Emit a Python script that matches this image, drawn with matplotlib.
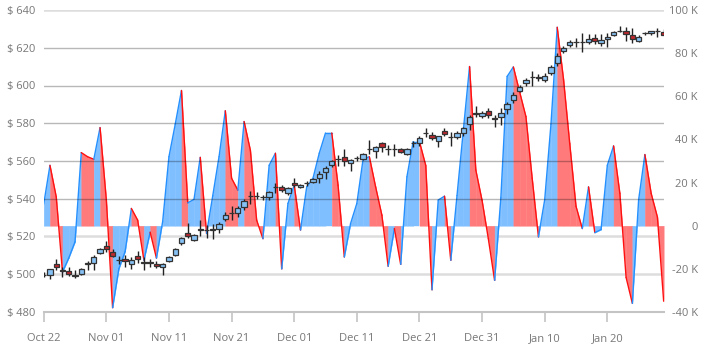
import numpy as np
import pandas as pd
import matplotlib
matplotlib.use("Agg")
import matplotlib.pyplot as plt
import matplotlib.dates as mdates
from matplotlib import transforms
from matplotlib.ticker import FuncFormatter

plt.rcParams['font.family'] = ['Open Sans', 'DejaVu Sans']

start_date = "2018-10-22"

opens = [499.8, 499.5, 505.4, 502.0, 501.6, 499.4, 500.0, 505.6, 506.1, 511.4,
         515.0, 511.8, 507.7, 508.3, 505.4, 509.7, 506.3, 506.3, 505.6, 503.7,
         507.0, 510.4, 516.4, 521.8, 518.3, 523.8, 523.4, 523.8, 523.8, 529.1,
         532.6, 532.3, 535.8, 541.5, 541.5, 541.0, 540.8, 546.2, 546.4, 543.2,
         548.5, 546.0, 548.2, 549.0, 550.8, 554.2, 557.7, 561.1, 562.0, 558.9,
         561.6, 561.0, 566.3, 565.5, 569.4, 566.3, 566.3, 566.1, 563.9, 569.7,
         569.7, 574.6, 573.8, 570.4, 575.7, 572.9, 572.6, 575.0, 579.6, 585.5,
         583.8, 586.6, 582.6, 583.2, 587.4, 592.3, 597.2, 601.2, 604.3, 604.3,
         603.1, 606.8, 612.1, 618.4, 621.6, 623.2, 623.2, 623.0, 625.0, 622.7,
         624.5, 626.8, 629.0, 628.9, 626.6, 623.7, 627.6, 627.6, 629.0, 628.5]
highs = [501.0, 503.0, 508.0, 504.0, 504.0, 502.0, 503.5, 507.0, 510.0, 514.0,
         517.5, 513.5, 509.5, 510.0, 509.0, 512.5, 509.0, 508.0, 507.0, 506.0,
         509.5, 514.0, 519.8, 527.0, 521.5, 528.5, 526.0, 526.5, 527.5, 533.0,
         536.0, 536.0, 540.0, 544.0, 543.5, 542.0, 544.0, 548.5, 547.5, 546.0,
         551.0, 548.0, 549.5, 551.0, 554.5, 557.5, 560.5, 563.0, 566.2, 560.9,
         562.5, 564.5, 571.0, 568.0, 570.2, 568.5, 569.0, 567.0, 567.0, 570.5,
         573.5, 577.6, 575.5, 573.5, 577.5, 575.5, 576.0, 578.0, 584.5, 589.0,
         586.5, 588.0, 584.4, 587.9, 591.5, 596.7, 600.5, 604.0, 607.7, 606.0,
         606.5, 611.0, 617.0, 621.0, 624.0, 625.0, 627.6, 627.5, 627.5, 627.5,
         628.0, 629.0, 631.5, 631.2, 630.3, 626.5, 628.5, 629.0, 630.3, 630.0]
lows = [498.5, 497.5, 502.0, 498.5, 499.0, 498.0, 499.5, 502.0, 502.0, 510.5,
        512.0, 509.0, 505.5, 504.0, 503.0, 506.0, 502.5, 504.0, 503.5, 499.5,
        506.5, 509.5, 515.5, 519.0, 517.5, 520.0, 519.0, 518.5, 522.0, 528.0,
        528.7, 530.5, 534.0, 537.0, 540.0, 539.3, 539.5, 543.0, 543.5, 542.0,
        546.0, 545.5, 546.5, 548.5, 548.5, 550.5, 557.0, 557.5, 557.4, 554.7,
        560.0, 560.5, 563.7, 561.5, 564.9, 563.2, 562.8, 564.0, 563.0, 567.5,
        568.0, 572.6, 571.0, 567.3, 573.0, 568.0, 571.5, 573.5, 576.5, 583.5,
        583.0, 582.6, 578.2, 579.1, 585.0, 590.6, 596.5, 599.5, 599.7, 602.5,
        602.0, 605.5, 610.5, 617.0, 620.5, 620.6, 618.0, 622.0, 622.0, 621.0,
        620.5, 626.0, 628.5, 623.7, 622.4, 623.0, 626.5, 627.0, 625.9, 626.5]
closes = [499.6, 502.6, 503.7, 501.8, 500.1, 499.0, 502.8, 505.8, 509.0, 513.2,
          513.2, 509.5, 507.5, 507.0, 507.8, 508.0, 506.2, 506.2, 504.5, 505.3,
          509.0, 513.2, 519.0, 520.2, 520.8, 523.7, 523.3, 523.7, 526.6, 531.4,
          532.5, 535.0, 538.8, 541.4, 541.4, 540.8, 543.4, 546.3, 544.6, 545.5,
          547.1, 547.4, 548.3, 550.6, 553.0, 556.3, 559.8, 561.2, 560.2, 560.7,
          561.5, 563.6, 566.2, 567.4, 567.6, 566.2, 566.2, 564.8, 566.5, 569.8,
          572.2, 574.7, 572.0, 573.1, 574.1, 572.8, 575.0, 577.6, 583.2, 585.0,
          585.3, 584.5, 582.5, 585.3, 590.0, 595.0, 599.0, 602.8, 604.4, 604.2,
          604.9, 609.6, 615.6, 620.0, 623.0, 623.3, 623.3, 624.5, 623.7, 624.1,
          625.9, 628.3, 629.1, 627.3, 624.8, 625.7, 627.7, 628.7, 629.1, 626.8]

# second series, in thousands (right axis)
flow_k = [10, 28, 13.4, -21.5, -15, -7.5, 33.9, 32, 30.8, 45.5,
          12, -38, -20, -12, 8, 2.6, -16, -3, -15, 2,
          32, 47, 62.7, 10.6, 12.2, 31.7, -3.6, 14, 32, 53.3,
          22, 16.5, 48.3, 35, 2.6, -6, 28, 33.6, -20, 10.3,
          18.8, -2, 18, 22, 33.6, 43, 43, 18.8, -14.5, 1,
          10.3, 30.8, 32, 18, 4.9, -18.8, -1.3, -17.9, 22.7, 39,
          39, 28, -29.7, 11.9, 13.7, -16, 14, 44, 73.8, 25.8,
          11.7, -6, -25.3, 13, 69.2, 73.6, 62, 50.6, 22, -5.2,
          12, 47, 92, 68, 38, 9, -1.3, 18, -3.2, -1.8,
          28, 37, 15, -24, -36, 12, 33, 15, 4, -35]

price_ticks = [480, 500, 520, 540, 560, 580, 600, 620, 640]
flow_ticks = [-40, -20, 0, 20, 40, 60, 80, 100]


def plot_chart(output):
    dates = pd.date_range(start_date, periods=len(opens), freq="D")
    x = mdates.date2num(dates)
    o, h, l, c = (np.array(v) for v in (opens, highs, lows, closes))
    flow = np.array(flow_k)

    fig, ax = plt.subplots(figsize=(7.17, 3.52), dpi=100)
    fig.subplots_adjust(left=43.7 / 717, right=664.3 / 717, bottom=1 - 312 / 352, top=1 - 10 / 352)
    ax2 = ax.twinx()
    ax.set_zorder(ax2.get_zorder() + 1)
    ax.patch.set_visible(False)

    # area series, coloured per segment by direction
    for i in range(len(x) - 1):
        rising = flow[i + 1] >= flow[i]
        fill = '#80bfff' if rising else '#ff7a7a'
        line = '#2490ff' if rising else '#ff1010'
        ax2.fill_between(x[i:i + 2], flow[i:i + 2], 0, facecolor=fill, edgecolor=fill,
                         linewidth=0.3, zorder=1)
        ax2.plot(x[i:i + 2], flow[i:i + 2], color=line, lw=1.0, zorder=2, solid_capstyle='round')

    # grid lines
    trans = transforms.blended_transform_factory(ax2.transAxes, ax.transData)
    for p in price_ticks[1:]:
        if p in (500, 520, 640):
            ax2.plot([0, 1], [p, p], transform=trans, color='#dddddd', lw=1.8, zorder=0)
        else:
            ax.axhline(p, color=(0, 0, 0, 0.28), lw=1, zorder=0.5)

    # candles
    up = c >= o
    ax.vlines(x, l, h, color='#222222', lw=1, zorder=3)
    ax.bar(x, np.abs(c - o), width=0.85, bottom=np.minimum(o, c),
           color=np.where(up, '#86c1f5', '#c0282e'), edgecolor='#333333', linewidth=0.9, zorder=4)

    ax.set_xlim(x[0], x[0] + 99.1)
    ax.set_ylim(480, 640)
    ax2.set_ylim(-40, 100)

    ax.set_yticks(price_ticks)
    ax.yaxis.set_major_formatter(FuncFormatter(lambda v, _: f"$ {v:.0f}"))
    ax2.set_yticks(flow_ticks)
    ax2.yaxis.set_major_formatter(FuncFormatter(lambda v, _: "0" if v == 0 else f"{v:.0f} K"))

    ax.set_xticks(x[::10])
    ax.xaxis.set_major_formatter(mdates.DateFormatter("%b %d"))

    for a in (ax, ax2):
        for s in ('top', 'left', 'right', 'bottom'):
            a.spines[s].set_visible(False)
    ax.spines['bottom'].set_visible(True)
    ax.spines['bottom'].set_color('#c4c4c4')
    ax.spines['bottom'].set_linewidth(1.5)

    ax.tick_params(axis='x', length=7, width=1.2, color='#c4c4c4', labelcolor='#777777',
                   labelsize=8, pad=8)
    ax.tick_params(axis='y', length=0, labelcolor='#777777', labelsize=8, pad=6)
    ax2.tick_params(axis='y', length=0, labelcolor='#777777', labelsize=8, pad=24)
    for lbl in ax2.get_yticklabels():
        lbl.set_horizontalalignment('right')

    fig.savefig(output)
    plt.close(fig)


if __name__ == "__main__":
    plot_chart("out.png")
